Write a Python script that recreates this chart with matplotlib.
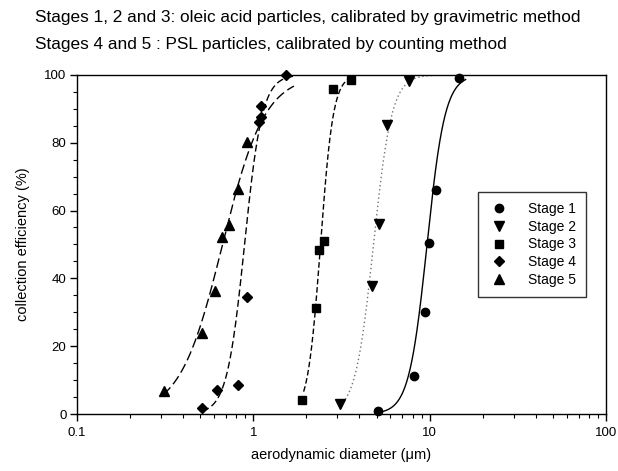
import numpy as np
import matplotlib
matplotlib.use("Agg")
import matplotlib.pyplot as plt
from matplotlib.ticker import MultipleLocator, LogLocator, NullFormatter, FixedLocator, FixedFormatter

plt.rcParams['font.family'] = ['Liberation Sans', 'DejaVu Sans']

# data
s1_x = [5.12, 8.13, 9.46, 9.95, 10.9, 14.7]
s1_y = [1.0, 11.2, 30.2, 50.3, 66.0, 99.0]
s2_x = [3.10, 4.69, 5.15, 5.70, 7.68]
s2_y = [3.0, 37.6, 55.9, 85.1, 98.3]
s3_x = [1.90, 2.26, 2.35, 2.51, 2.83, 3.59]
s3_y = [4.1, 31.2, 48.4, 51.1, 95.9, 98.5]
s4_x = [0.515, 0.621, 0.817, 0.925, 1.077, 1.11, 1.11, 1.53]
s4_y = [1.7, 7.1, 8.6, 34.6, 86.0, 87.5, 90.9, 100.0]
s5_x = [0.31, 0.512, 0.608, 0.664, 0.73, 0.817, 0.925]
s5_y = [6.8, 24.0, 36.3, 52.3, 55.8, 66.3, 80.3]

stages = ["Stage 1", "Stage 2", "Stage 3", "Stage 4", "Stage 5"]
xs = [s1_x, s2_x, s3_x, s4_x, s5_x]
ys = [s1_y, s2_y, s3_y, s4_y, s5_y]
markers = ["o", "v", "s", "D", "^"]
msizes = [6, 6.5, 5.5, 5.5, 6.5]
curve_range = [(5.1, 16), (3.1, 10.5), (1.93, 3.8), (0.515, 1.75), (0.31, 1.7)]
styles = ["-", (0, (1, 2)), (0, (4, 2)), (0, (5, 2.5)), (0, (7, 3))]
colors = ["black", "0.45", "black", "black", "black"]


def fit_curve(x, y, lo, hi):
    x = np.asarray(x)
    y = np.asarray(y)
    lx = np.log10(x)
    p = np.clip(y / 100.0, 0.005, 0.995)
    b, a = np.polyfit(lx, np.log(p / (1 - p)), 1)
    xx = np.logspace(np.log10(lo), np.log10(hi), 300)
    yy = 100.0 / (1 + np.exp(-(a + b * np.log10(xx))))
    return xx, yy


fig = plt.figure(figsize=(6.18, 4.71), dpi=100)
ax = fig.add_axes([0.1245, 0.121, 0.856, 0.72])

for i in range(5):
    lo, hi = curve_range[i]
    cx, cy = fit_curve(xs[i], ys[i], lo, hi)
    ax.plot(cx, cy, linestyle=styles[i], color=colors[i], lw=1.0)
    ax.plot(xs[i], ys[i], linestyle="none", marker=markers[i], ms=msizes[i],
            color="black", label=stages[i], clip_on=False, zorder=3)

ax.set_xscale("log")
ax.set_xlim(0.1, 100)
ax.set_ylim(0, 100)
ax.xaxis.set_major_locator(FixedLocator([0.1, 1, 10, 100]))
ax.xaxis.set_major_formatter(FixedFormatter(["0.1", "1", "10", "100"]))
ax.xaxis.set_minor_locator(LogLocator(base=10, subs=np.arange(2, 10)))
ax.xaxis.set_minor_formatter(NullFormatter())
ax.yaxis.set_major_locator(MultipleLocator(20))
ax.yaxis.set_minor_locator(MultipleLocator(5))
ax.tick_params(which="major", direction="out", length=5, width=1, labelsize=9.5)
ax.tick_params(which="minor", direction="out", length=3, width=0.8)
ax.tick_params(axis="x", which="major", pad=4.5)
ax.tick_params(axis="y", which="major", pad=2.5)
for sp in ax.spines.values():
    sp.set_linewidth(1.0)

ax.set_xlabel("aerodynamic diameter (\u03bcm)", fontsize=10.5, labelpad=6)
ax.set_ylabel("collection efficiency (%)", fontsize=10.5, labelpad=10)

leg = ax.legend(loc="center left", bbox_to_anchor=(0.745, 0.5), fontsize=10,
                frameon=True, fancybox=False, edgecolor="black",
                handletextpad=1.3, borderpad=0.7, labelspacing=0.28,
                handlelength=1.6)
leg.get_frame().set_linewidth(1.0)

fig.text(0.057, 0.962, "Stages 1, 2 and 3: oleic acid particles, calibrated by gravimetric method",
         fontsize=12.4, va="center")
fig.text(0.057, 0.905, "Stages 4 and 5 : PSL particles, calibrated by counting method",
         fontsize=12.4, va="center")

fig.savefig("out.png", dpi=100)
